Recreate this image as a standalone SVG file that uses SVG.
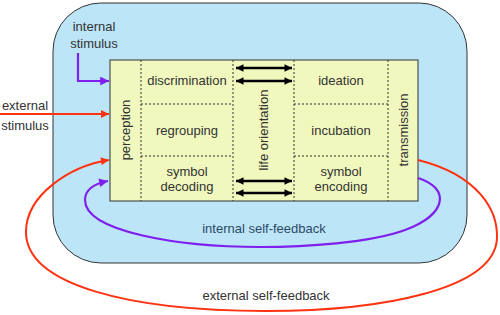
<svg xmlns="http://www.w3.org/2000/svg" width="500" height="315" viewBox="0 0 500 315">
<defs>
<style>
text{font-family:"Liberation Sans",Arial,sans-serif;font-size:13px;fill:#333;text-anchor:middle}
.dot{stroke:#333;stroke-width:1;stroke-dasharray:2,2;fill:none}
.blk{stroke:#000;stroke-width:2.5;fill:none}
.red{stroke:#ff3311;stroke-width:2;fill:none}
.pur{stroke:#7f1fee;stroke-width:2.2;fill:none}
</style>
<marker id="ar" viewBox="0 0 10 10" refX="10" refY="5" markerWidth="5" markerHeight="4" orient="auto" markerUnits="strokeWidth"><path d="M0,0L10,5L0,10z" fill="#ff3311"/></marker>
<marker id="ap" viewBox="0 0 10 10" refX="10" refY="5" markerWidth="5" markerHeight="4" orient="auto" markerUnits="strokeWidth"><path d="M0,0L10,5L0,10z" fill="#7f1fee"/></marker>
<marker id="ab" viewBox="0 0 10 10" refX="10" refY="5" markerWidth="4" markerHeight="3" orient="auto-start-reverse" markerUnits="strokeWidth"><path d="M0,0L10,5L0,10z" fill="#000"/></marker>
</defs>
<g id="outer"><rect x="53" y="3" width="414" height="260" rx="48" fill="#bde5f8" stroke="#333" stroke-width="1"/></g>
<g id="process">
<rect x="110" y="60" width="308" height="141" fill="#f0f8bd" stroke="#333" stroke-width="1"/>
<line class="dot" x1="141" y1="60" x2="141" y2="201"/>
<line class="dot" x1="233" y1="60" x2="233" y2="201"/>
<line class="dot" x1="294" y1="60" x2="294" y2="201"/>
<line class="dot" x1="388" y1="60" x2="388" y2="201"/>
<line class="dot" x1="141" y1="104" x2="233" y2="104"/>
<line class="dot" x1="141" y1="156" x2="233" y2="156"/>
<line class="dot" x1="294" y1="104" x2="388" y2="104"/>
<line class="dot" x1="294" y1="156" x2="388" y2="156"/>
</g>
<g id="perception"><text transform="translate(130,130) rotate(-90)">perception</text></g>
<g id="discrimination"><text x="187" y="85">discrimination</text></g>
<g id="regrouping"><text x="187" y="135">regrouping</text></g>
<g id="symbol-decoding"><text x="187" y="176">symbol</text><text x="187" y="191">decoding</text></g>
<g id="life-orientation"><text transform="translate(268,130) rotate(-90)">life orientation</text></g>
<g id="ideation"><text x="341" y="85">ideation</text></g>
<g id="incubation"><text x="341" y="135">incubation</text></g>
<g id="symbol-encoding"><text x="341" y="176">symbol</text><text x="341" y="191">encoding</text></g>
<g id="transmission"><text transform="translate(408,130) rotate(-90)">transmission</text></g>
<g id="internal-stimulus"><text x="94" y="31">internal</text><text x="94" y="48">stimulus</text></g>
<g id="external-stimulus"><text x="25" y="110">external</text><text x="25" y="130">stimulus</text></g>
<g id="internal-self-feedback"><text x="264" y="233" fill="#2b4a66" style="fill:#2b4a66">internal self-feedback</text></g>
<g id="external-self-feedback"><text x="266" y="300">external self-feedback</text></g>
<g id="connectors">
<polyline class="pur" points="78,53 78,81 109,81" marker-end="url(#ap)"/>
<line class="red" x1="0" y1="114" x2="109" y2="114" marker-end="url(#ar)"/>
<line class="blk" x1="236" y1="68" x2="292" y2="68" marker-start="url(#ab)" marker-end="url(#ab)"/>
<line class="blk" x1="236" y1="81" x2="292" y2="81" marker-start="url(#ab)" marker-end="url(#ab)"/>
<line class="blk" x1="236" y1="181" x2="292" y2="181" marker-start="url(#ab)" marker-end="url(#ab)"/>
<line class="blk" x1="236" y1="193" x2="292" y2="193" marker-start="url(#ab)" marker-end="url(#ab)"/>
<path class="red" d="M418,160 C478,175 498,210 497,238 C495,290 380,311 266,311 C130,311 26,285 26,232 C26,195 70,166 109,160" marker-end="url(#ar)"/>
<path class="pur" d="M418,178 C450,188 448,214 405,230 C370,243 305,247 260,247 C180,247 85,232 85,200 C85,190 93,184 108,181" marker-end="url(#ap)"/>
</g>
</svg>
